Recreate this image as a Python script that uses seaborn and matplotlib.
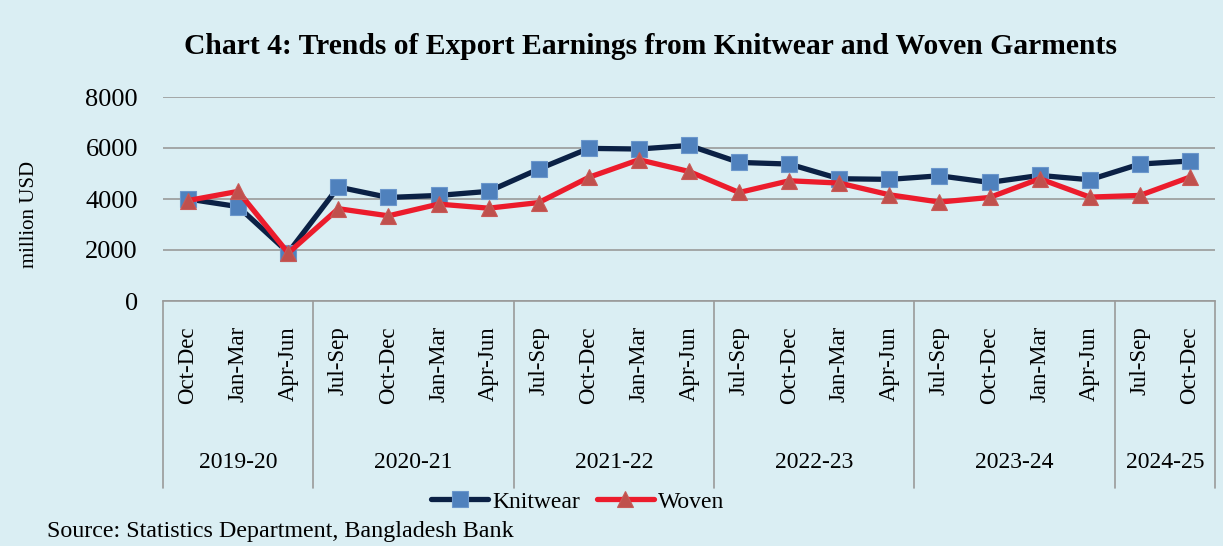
import numpy as np
import pandas as pd
import matplotlib
matplotlib.use("Agg")
import matplotlib.pyplot as plt
import matplotlib.transforms as mtransforms
from matplotlib.lines import Line2D
import seaborn as sns

# ---- data ----
quarters = ["Oct-Dec", "Jan-Mar", "Apr-Jun",
            "Jul-Sep", "Oct-Dec", "Jan-Mar", "Apr-Jun",
            "Jul-Sep", "Oct-Dec", "Jan-Mar", "Apr-Jun",
            "Jul-Sep", "Oct-Dec", "Jan-Mar", "Apr-Jun",
            "Jul-Sep", "Oct-Dec", "Jan-Mar", "Apr-Jun",
            "Jul-Sep", "Oct-Dec"]
fiscal_years = ["2019-20", "2020-21", "2021-22", "2022-23", "2023-24", "2024-25"]
year_sizes = [3, 4, 4, 4, 4, 2]
knitwear = [4000, 3700, 1900, 4470, 4060, 4140, 4300, 5175, 5985, 5960, 6100,
            5435, 5370, 4795, 4770, 4910, 4650, 4925, 4755, 5370, 5490]
woven = [3940, 4300, 1880, 3620, 3340, 3800, 3640, 3860, 4850, 5540, 5080,
         4255, 4715, 4625, 4165, 3880, 4060, 4795, 4075, 4140, 4860]
yticks = [0, 2000, 4000, 6000, 8000]

title = "Chart 4: Trends of Export Earnings from Knitwear and Woven Garments"
ylabel = "million USD"
source = "Source: Statistics Department, Bangladesh Bank"

# ---- style ----
bg = "#DAEEF3"
sns.set_style("white")
plt.rcParams["font.family"] = ["Liberation Serif", "DejaVu Serif"]
plt.rcParams["text.color"] = "black"
plt.rcParams["xtick.color"] = "black"
plt.rcParams["ytick.color"] = "black"
plt.rcParams["xtick.labelcolor"] = "black"
plt.rcParams["ytick.labelcolor"] = "black"

W, H = 1223, 546
fig = plt.figure(figsize=(W / 100, H / 100), dpi=100, facecolor=bg)
ax = fig.add_axes([163 / W, 1 - 301 / H, (1215 - 163) / W, (301 - 97) / H])
ax.set_facecolor(bg)

pos = np.arange(len(quarters))
df = pd.DataFrame({"pos": np.concatenate([pos, pos]),
                   "value": knitwear + woven,
                   "series": ["Knitwear"] * len(pos) + ["Woven"] * len(pos)})

sns.lineplot(data=df[df.series == "Knitwear"], x="pos", y="value", ax=ax,
             color="#0B2145", linewidth=3.8, marker="s", markersize=11,
             markerfacecolor="#4F81BD", markeredgecolor="#6B97CC",
             markeredgewidth=0.8, label="Knitwear", legend=False, zorder=3)
sns.lineplot(data=df[df.series == "Woven"], x="pos", y="value", ax=ax,
             color="#EC1C2C", linewidth=3.8, marker="^", markersize=12,
             markerfacecolor="#C0504D", markeredgecolor="#C85A57",
             markeredgewidth=0.8, label="Woven", legend=False, zorder=4)

ax.set_xlim(-0.5, len(quarters) - 0.5)
ax.set_ylim(0, 8000)
ax.set_yticks(yticks)
ax.set_yticklabels([str(v) for v in yticks], fontsize=19)
ax.yaxis.grid(True, color="#9A9A9A", linewidth=1.2)
ax.set_axisbelow(True)
ax.set_xticks(pos)
ax.set_xticklabels(quarters, rotation=90, fontsize=16.5)
ax.tick_params(axis="x", length=0, pad=18, labelcolor="black")
ax.tick_params(axis="y", length=0, pad=18, labelcolor="black")
ax.set_xlabel("")
ax.set_ylabel("")
for s in ["top", "right", "left"]:
    ax.spines[s].set_visible(False)
ax.spines["bottom"].set_color("#9A9A9A")
ax.spines["bottom"].set_linewidth(1.2)

# hierarchical category axis
trans = mtransforms.blended_transform_factory(ax.transData, fig.transFigure)
y_top = 1 - 301 / H
y_bot = 1 - 488 / H
start = 0
bounds = [0]
for n in year_sizes:
    start += n
    bounds.append(start)
for b in bounds:
    fig.add_artist(Line2D([b - 0.5, b - 0.5], [y_top, y_bot], transform=trans,
                          color="#9A9A9A", linewidth=1.2))
for i, fy in enumerate(fiscal_years):
    xc = (bounds[i] + bounds[i + 1]) / 2 - 0.5
    fig.text(xc, 1 - 462 / H, fy, transform=trans, ha="center", va="center",
             fontsize=17, color="black")

# title, labels
fig.text(650 / W, 1 - 46 / H, title, ha="center", va="center",
         fontsize=21.3, fontweight="bold", color="black")
fig.text(29 / W, 1 - 214 / H, ylabel, rotation=90, ha="center", va="center",
         fontsize=15, color="black")
fig.text(47 / W, 1 - 532 / H, source, ha="left", va="center", fontsize=17.3,
         color="black")

handles, labels = ax.get_legend_handles_labels()
fig.legend(handles, labels, loc="center", bbox_to_anchor=(578 / W, 1 - 502 / H),
           ncol=2, frameon=False, fontsize=17, handlelength=2.4,
           handletextpad=0.2, columnspacing=0.7, borderpad=0,
           labelcolor="black")

fig.savefig("out.png", dpi=100, facecolor=bg)
